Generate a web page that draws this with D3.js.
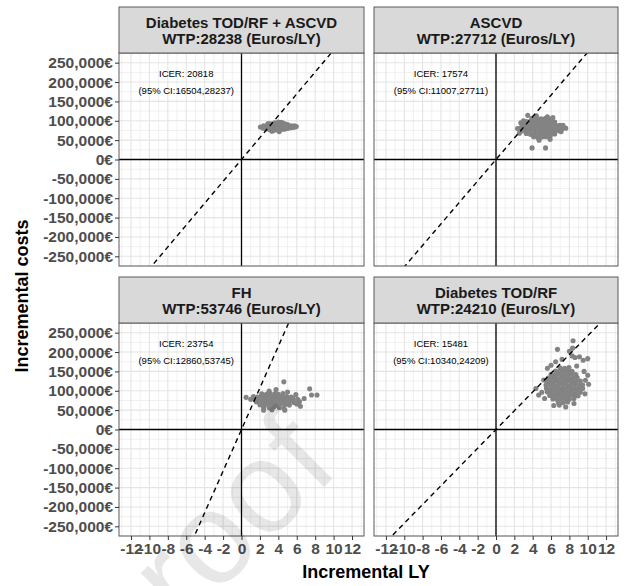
<!DOCTYPE html>
<html>
<head>
<meta charset="utf-8">
<script src="https://cdn.jsdelivr.net/npm/d3@7.9.0/dist/d3.min.js"></script>
<style>
  html, body { margin: 0; padding: 0; background: #fff; }
  svg { display: block; font-family: "Liberation Sans", Arial, sans-serif; }
</style>
</head>
<body>
<svg id="chart" width="626" height="586"></svg>
<script>
// ===== data =====
const panelNames = ['Diabetes TOD/RF + ASCVD', 'ASCVD', 'FH', 'Diabetes TOD/RF'];
const wtp    = [28238, 27712, 53746, 24210];
const icer   = [20818, 17574, 23754, 15481];
const ciLow  = [16504, 11007, 12860, 10340];
const ciHigh = [28237, 27711, 53745, 24209];

const xTicks = [-12, -10, -8, -6, -4, -2, 0, 2, 4, 6, 8, 10, 12];
const yTicks = [-250000, -200000, -150000, -100000, -50000, 0, 50000, 100000, 150000, 200000, 250000];

// simulated pairs: [incremental LY, incremental cost in thousand euros]
const ptsDiabAscvd = [
  [2.05,84],[2.35,81],[2.4,87],[2.7,79],[2.75,84],[2.8,89],[3.1,77],[3.15,82],[3.1,87],[3.2,92],
  [3.45,75],[3.5,80],[3.55,85],[3.5,90],[3.6,95],[3.85,76],[3.9,81],[3.85,86],[3.95,91],[4.0,97],
  [4.25,77],[4.3,82],[4.2,87],[4.3,92],[4.35,96],[4.65,78],[4.6,83],[4.7,88],[4.65,93],[5.0,80],
  [5.05,85],[5.0,90],[5.35,82],[5.4,87],[5.7,83],[5.75,87],[5.95,85],[2.9,93],[4.1,72],[3.3,73]
];
const ptsAscvd = [
  [4.1,59],[4.55,57],[5.0,58],[5.45,59],[5.9,60],
  [3.3,67],[3.75,65],[4.2,66],[4.65,67],[5.1,65],[5.55,66],[6.0,67],[6.4,66],
  [2.85,74],[3.3,75],[3.75,73],[4.2,74],[4.65,75],[5.1,73],[5.55,74],[6.0,75],[6.45,73],[6.9,74],
  [2.7,82],[3.15,83],[3.6,81],[4.05,82],[4.5,83],[4.95,81],[5.4,82],[5.85,83],[6.3,81],[6.75,82],[7.2,80],[7.6,81],
  [2.9,90],[3.35,91],[3.8,89],[4.25,90],[4.7,91],[5.15,89],[5.6,90],[6.05,91],[6.5,89],[6.95,88],
  [3.3,98],[3.75,99],[4.2,97],[4.65,98],[5.1,99],[5.55,97],[6.0,98],[6.4,97],
  [3.9,106],[4.4,107],[4.9,105],[5.35,106],[5.8,105],
  [3.46,114],[4.4,113],[5.6,110],[6.2,108],[2.99,100],[2.55,68],[2.35,80],[3.93,30],[5.4,30],
  [4.7,50],[5.9,52],[7.3,88],[7.1,72],[2.7,95]
];
const ptsFh = [
  [2.4,57],[3.0,56],[3.5,58],[4.1,57],[4.6,55],
  [2.0,64],[2.5,63],[2.9,65],[3.4,64],[3.8,63],[4.2,65],[4.7,64],[5.2,63],
  [1.6,71],[2.0,70],[2.4,72],[2.8,71],[3.2,70],[3.6,72],[4.0,71],[4.4,70],[4.8,72],[5.2,71],[5.7,70],[6.3,72],
  [1.0,78],[1.5,77],[1.9,79],[2.3,78],[2.7,77],[3.1,79],[3.5,78],[3.9,77],[4.3,79],[4.7,78],[5.1,77],[5.6,79],[6.1,78],
  [0.5,83],[1.3,85],[1.7,84],[2.1,86],[2.5,85],[2.9,84],[3.3,86],[3.7,85],[4.1,84],[4.5,86],[4.9,85],[5.4,84],
  [2.2,92],[2.7,91],[3.1,93],[3.6,92],[4.0,91],[4.5,93],
  [4.6,123],[3.75,103],[3.0,99],[7.4,105],[7.6,89],[8.2,89],[6.4,60],[4.7,50],[2.4,50],
  [6.8,80],[5.9,90],[5.0,97],[3.3,51],[6.0,66]
];
const ptsDiab = [
  [6.8,70],[7.3,69],[7.8,71],
  [6.2,79],[6.65,78],[7.1,80],[7.55,79],[8.0,78],[8.5,80],
  [5.85,88],[6.3,87],[6.75,89],[7.2,88],[7.65,87],[8.1,89],[8.55,88],[8.95,87],
  [5.6,97],[6.05,98],[6.5,96],[6.95,97],[7.4,98],[7.85,96],[8.3,97],[8.75,98],[9.2,96],
  [5.5,106],[5.95,105],[6.4,107],[6.85,106],[7.3,105],[7.75,107],[8.2,106],[8.65,105],[9.1,107],[9.45,106],
  [5.45,115],[5.9,116],[6.35,114],[6.8,115],[7.25,116],[7.7,114],[8.15,115],[8.6,116],[9.05,114],[9.45,115],
  [5.55,124],[6.0,123],[6.45,125],[6.9,124],[7.35,123],[7.8,125],[8.25,124],[8.7,123],[9.2,125],
  [5.7,133],[6.15,134],[6.6,132],[7.05,133],[7.5,134],[7.95,132],[8.4,133],[8.85,134],
  [6.0,142],[6.45,141],[6.9,143],[7.35,142],[7.8,141],[8.25,143],[8.7,142],
  [6.5,151],[6.95,150],[7.4,152],[7.85,151],[8.3,150],
  [7.0,159],[7.5,158],[7.95,160],
  [8.4,229],[6.7,207],[8.35,210],[8.0,202],[8.3,190],[8.6,186],[9.1,188],[10.0,183],[9.5,179],
  [7.2,181],[6.5,175],[5.6,158],[4.35,106],[4.65,89],[10.0,140],[10.1,117],[9.75,127],[6.9,63],
  [7.6,58],[8.5,67],[5.2,128],[9.6,150],[6.0,166],[8.8,164],[5.0,96],[6.3,62],[9.7,92],[5.3,80]
];
const panelPoints = [ptsDiabAscvd, ptsAscvd, ptsFh, ptsDiab];

// ===== layout =====
const colLeft  = [119, 374];
const colWidth = [245, 244];
const stripTop = [7, 277];
const stripH = 46, panelH = 213;
const xDomain = [-13.3, 13.3];
const yDomain = [-275000, 275000];

const euro = d3.formatLocale({ decimal: '.', thousands: ',', grouping: [3], currency: ['', '€'], minus: '-' });
const fmtCost = v => euro.format(',')(v) + '€';

const svg = d3.select('#chart');

panelNames.forEach((name, i) => {
  const col = i % 2, row = Math.floor(i / 2);
  const left = colLeft[col], w = colWidth[col];
  const top = stripTop[row] + stripH;

  const x = d3.scaleLinear().domain(xDomain).range([left, left + w]);
  const y = d3.scaleLinear().domain(yDomain).range([top + panelH, top]);

  const g = svg.append('g');
  const clipId = 'clip' + i;
  svg.append('clipPath').attr('id', clipId)
    .append('rect').attr('x', left).attr('y', top).attr('width', w).attr('height', panelH);

  g.append('rect').attr('x', left).attr('y', top).attr('width', w).attr('height', panelH).attr('fill', '#fff');

  // minor grid
  const xMinor = d3.range(-13, 14, 2);
  const yMinor = d3.range(-275000, 275001, 50000);
  g.selectAll('.xmin').data(xMinor).join('line')
    .attr('x1', d => x(d)).attr('x2', d => x(d)).attr('y1', top).attr('y2', top + panelH)
    .attr('stroke', '#eeeeee').attr('stroke-width', 0.9);
  g.selectAll('.ymin').data(yMinor).join('line')
    .attr('x1', left).attr('x2', left + w).attr('y1', d => y(d)).attr('y2', d => y(d))
    .attr('stroke', '#eeeeee').attr('stroke-width', 0.9);
  // major grid
  g.selectAll('.xmaj').data(xTicks).join('line')
    .attr('x1', d => x(d)).attr('x2', d => x(d)).attr('y1', top).attr('y2', top + panelH)
    .attr('stroke', '#e4e4e4').attr('stroke-width', 1.1);
  g.selectAll('.ymaj').data(yTicks).join('line')
    .attr('x1', left).attr('x2', left + w).attr('y1', d => y(d)).attr('y2', d => y(d))
    .attr('stroke', '#e4e4e4').attr('stroke-width', 1.1);

  // zero lines
  g.append('line').attr('x1', x(0)).attr('x2', x(0)).attr('y1', top).attr('y2', top + panelH)
    .attr('stroke', '#000').attr('stroke-width', 1.3);
  g.append('line').attr('x1', left).attr('x2', left + w).attr('y1', y(0)).attr('y2', y(0))
    .attr('stroke', '#000').attr('stroke-width', 1.3);

  // simulation cloud
  g.append('g').attr('clip-path', `url(#${clipId})`)
    .selectAll('circle').data(panelPoints[i]).join('circle')
    .attr('cx', d => x(d[0])).attr('cy', d => y(d[1] * 1000)).attr('r', 2.55)
    .attr('fill', '#838383');

  // willingness-to-pay line through origin
  const wx = [xDomain[0], xDomain[1]];
  g.append('line').attr('clip-path', `url(#${clipId})`)
    .attr('x1', x(wx[0])).attr('y1', y(wx[0] * wtp[i]))
    .attr('x2', x(wx[1])).attr('y2', y(wx[1] * wtp[i]))
    .attr('stroke', '#000').attr('stroke-width', 1.4).attr('stroke-dasharray', '5,4');

  // ICER annotation
  const ann = g.append('text').attr('text-anchor', 'middle').attr('font-size', 9.5).attr('fill', '#000');
  ann.append('tspan').attr('x', x(-6)).attr('y', top + 24).text(`ICER: ${icer[i]}`);
  ann.append('tspan').attr('x', x(-6)).attr('y', top + 41).text(`(95% CI:${ciLow[i]},${ciHigh[i]})`);

  // panel border
  g.append('rect').attr('x', left).attr('y', top).attr('width', w).attr('height', panelH)
    .attr('fill', 'none').attr('stroke', '#5a5a5a').attr('stroke-width', 1);

  // strip
  g.append('rect').attr('x', left).attr('y', stripTop[row]).attr('width', w).attr('height', stripH)
    .attr('fill', '#d9d9d9').attr('stroke', '#5a5a5a').attr('stroke-width', 1);
  const st = g.append('text').attr('text-anchor', 'middle').attr('font-size', 15)
    .attr('font-weight', 'bold').attr('fill', '#1a1a1a');
  st.append('tspan').attr('x', left + w / 2).attr('y', stripTop[row] + 20.5).text(name);
  st.append('tspan').attr('x', left + w / 2).attr('y', stripTop[row] + 37).text(`WTP:${wtp[i]} (Euros/LY)`);

  // axes on outer panels only
  if (col === 0) {
    const ax = d3.axisLeft(y).tickValues(yTicks).tickFormat(fmtCost).tickSize(4).tickPadding(2);
    const ag = svg.append('g').attr('transform', `translate(${left},0)`).call(ax);
    ag.select('.domain').remove();
    ag.selectAll('line').attr('stroke', '#333');
    ag.selectAll('text').attr('font-size', 15.5).attr('font-weight', 'bold').attr('fill', '#4d4d4d')
      .attr('font-family', '"Liberation Sans", Arial, sans-serif');
  }
  if (row === 1) {
    const ax = d3.axisBottom(x).tickValues(xTicks).tickFormat(d => euro.format('')(d)).tickSize(4).tickPadding(3);
    const ag = svg.append('g').attr('transform', `translate(0,${top + panelH})`).call(ax);
    ag.select('.domain').remove();
    ag.selectAll('line').attr('stroke', '#333');
    ag.selectAll('text').attr('font-size', 15.5).attr('font-weight', 'bold').attr('fill', '#4d4d4d')
      .attr('font-family', '"Liberation Sans", Arial, sans-serif');
  }
});

// axis titles
svg.append('text').attr('transform', 'translate(28,296) rotate(-90)')
  .attr('text-anchor', 'middle').attr('font-size', 18).attr('font-weight', 'bold').attr('fill', '#000')
  .text('Incremental costs');
svg.append('text').attr('x', 366).attr('y', 578)
  .attr('text-anchor', 'middle').attr('font-size', 18).attr('font-weight', 'bold').attr('fill', '#000')
  .text('Incremental LY');

// faint "pre-proof" watermark
svg.append('text').attr('transform', 'translate(132,679) rotate(-45)')
  .attr('font-size', 130).attr('fill', '#000').attr('opacity', 0.09)
  .text('proof');
</script>
</body>
</html>
